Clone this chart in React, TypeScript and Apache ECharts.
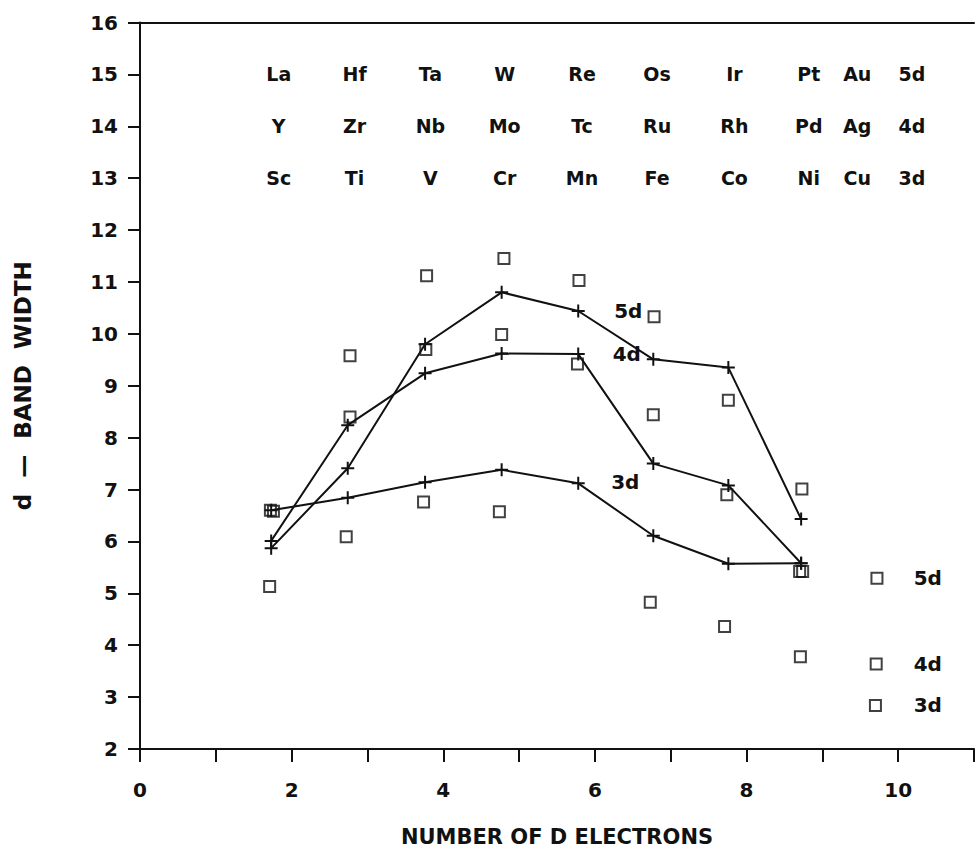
import React, { useEffect, useRef } from "react";
import * as echarts from "echarts";

// Column positions (number of d electrons) of the computed points
const lineX = [1.73, 2.74, 3.76, 4.77, 5.78, 6.77, 7.76, 8.72];

// d-band widths joined by lines, one list per transition series
const line5d = [5.87, 7.41, 9.8, 10.8, 10.44, 9.51, 9.35, 6.43];
const line4d = [6.01, 8.24, 9.24, 9.62, 9.61, 7.5, 7.08, 5.58];
const line3d = [6.6, 6.84, 7.14, 7.38, 7.12, 6.11, 5.57, 5.58];

// Open-square points
const squareX = [
  1.72, 1.76, 1.71,
  2.77, 2.77, 2.72,
  3.78, 3.77, 3.74,
  4.8, 4.77, 4.74,
  5.79, 5.77,
  6.78, 6.77, 6.73,
  7.76, 7.74, 7.71,
  8.73, 8.7, 8.74, 8.71,
  9.72, 9.71, 9.7,
];
const squareY = [
  6.6, 6.58, 5.13,
  9.58, 8.4, 6.09,
  11.12, 9.7, 6.76,
  11.45, 9.99, 6.57,
  11.03, 9.42,
  10.33, 8.44, 4.83,
  8.72, 6.9, 4.36,
  7.01, 5.42, 5.42, 3.78,
  5.29, 3.64, 2.84,
];

// Element table across the top
const elementColX = [1.83, 2.83, 3.83, 4.81, 5.83, 6.82, 7.84, 8.82, 9.46, 10.18];
const elements5d = ["La", "Hf", "Ta", "W", "Re", "Os", "Ir", "Pt", "Au", "5d"];
const elements4d = ["Y", "Zr", "Nb", "Mo", "Tc", "Ru", "Rh", "Pd", "Ag", "4d"];
const elements3d = ["Sc", "Ti", "V", "Cr", "Mn", "Fe", "Co", "Ni", "Cu", "3d"];
const elementRowY = [15, 14, 13];

// Series names written next to the curves and next to the right-hand squares
const curveNames = ["5d", "4d", "3d"];
const curveLabelX = [6.44, 6.42, 6.4];
const curveLabelY = [10.44, 9.62, 7.15];
const sideLabelX = 10.39;
const sideLabelY = [5.29, 3.64, 2.84];

// Axis ticks
const xTicks = [0, 2, 4, 6, 8, 10];

const INK = "#111111";
const FONT = "DejaVu Sans";
const WEIGHT = 600;
const CROSS = "path://M6,0L6,12M0,6L12,6";

function lineSeries(values: number[]) {
  return {
    type: "line",
    data: lineX.map((x, i) => [x, values[i]]),
    symbol: CROSS,
    symbolSize: 13,
    itemStyle: { color: "rgba(0,0,0,0)", borderColor: INK, borderWidth: 2 },
    lineStyle: { color: INK, width: 2 },
    smooth: false,
    silent: true,
    z: 3,
  };
}

function textSeries(items: { name: string; value: number[] }[], size: number) {
  return {
    type: "scatter",
    data: items,
    symbol: "circle",
    symbolSize: 1,
    itemStyle: { color: "#ffffff", opacity: 1 },
    label: {
      show: true,
      position: "inside",
      formatter: "{b}",
      color: INK,
      opacity: 1,
      fontFamily: FONT,
      fontWeight: WEIGHT,
      fontSize: size,
    },
    silent: true,
    z: 5,
  };
}

export default function App() {
  const ref = useRef<HTMLDivElement>(null);

  useEffect(() => {
    if (!ref.current) return;
    const chart = echarts.init(ref.current, undefined, { renderer: "svg" });

    const rows = [elements5d, elements4d, elements3d];
    const elementItems = rows.flatMap((row, r) =>
      row.map((name, i) => ({ name, value: [elementColX[i], elementRowY[r]] }))
    );
    const curveItems = curveNames.map((name, i) => ({
      name,
      value: [curveLabelX[i], curveLabelY[i]],
    }));
    const sideItems = curveNames.map((name, i) => ({
      name,
      value: [sideLabelX, sideLabelY[i]],
    }));

    chart.setOption({
      animation: false,
      backgroundColor: "#ffffff",
      grid: { left: 140, right: -3, top: 22.5, bottom: 99, containLabel: false },
      xAxis: [
        {
          type: "value",
          min: 0,
          max: 11,
          interval: 1,
          name: "NUMBER OF D ELECTRONS",
          nameLocation: "middle",
          nameGap: 77,
          nameTextStyle: { color: INK, fontFamily: FONT, fontWeight: WEIGHT, fontSize: 21 },
          axisLine: { show: true, onZero: false, lineStyle: { color: INK, width: 2 } },
          axisTick: { show: true, inside: false, length: 13, lineStyle: { color: INK, width: 2 } },
          axisLabel: {
            color: INK,
            fontFamily: FONT,
            fontWeight: WEIGHT,
            fontSize: 20,
            margin: 31,
            formatter: (v: number) => (xTicks.includes(v) ? String(v) : ""),
          },
          splitLine: { show: false },
        },
        {
          type: "value",
          position: "top",
          min: 0,
          max: 11,
          axisLine: { show: true, onZero: false, lineStyle: { color: INK, width: 2 } },
          axisTick: { show: false },
          axisLabel: { show: false },
          splitLine: { show: false },
        },
      ],
      yAxis: {
        type: "value",
        min: 2,
        max: 16,
        interval: 1,
        name: "d  \u2014  BAND  WIDTH",
        nameLocation: "middle",
        nameGap: 106,
        nameRotate: 90,
        nameTextStyle: { color: INK, fontFamily: FONT, fontWeight: WEIGHT, fontSize: 23 },
        axisLine: { show: true, onZero: false, lineStyle: { color: INK, width: 2 } },
        axisTick: { show: true, inside: false, length: 12, lineStyle: { color: INK, width: 2 } },
        axisLabel: { color: INK, fontFamily: FONT, fontWeight: WEIGHT, fontSize: 20, margin: 22 },
        splitLine: { show: false },
      },
      series: [
        lineSeries(line5d),
        lineSeries(line4d),
        lineSeries(line3d),
        {
          type: "scatter",
          data: squareX.map((x, i) => [x, squareY[i]]),
          symbol: "rect",
          symbolSize: 11,
          itemStyle: { color: "rgba(0,0,0,0)", borderColor: INK, borderWidth: 2 },
          silent: true,
          z: 4,
        },
        textSeries(elementItems, 19),
        textSeries(curveItems, 20),
        textSeries(sideItems, 20),
      ],
    });

    return () => chart.dispose();
  }, []);

  return (
    <div
      ref={ref}
      style={{ position: "absolute", left: 0, top: 0, width: 977, height: 852, background: "#fff" }}
    />
  );
}
